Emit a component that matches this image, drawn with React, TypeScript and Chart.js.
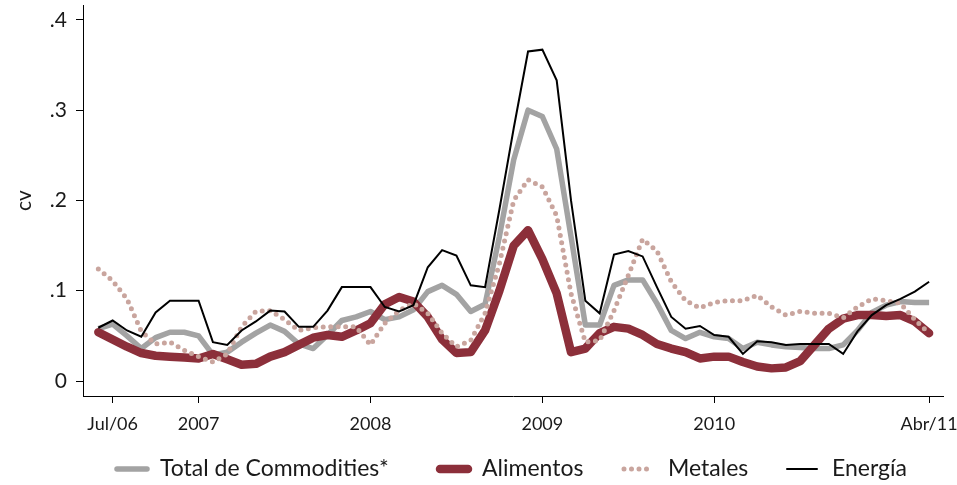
import React, { useEffect, useRef } from 'react';
import { Chart, registerables } from 'chart.js';

Chart.register(...registerables);

const months = [
  'Jun/06', 'Jul/06', 'Ago/06', 'Sep/06', 'Oct/06', 'Nov/06', 'Dic/06',
  'Ene/07', 'Feb/07', 'Mar/07', 'Abr/07', 'May/07', 'Jun/07', 'Jul/07', 'Ago/07', 'Sep/07', 'Oct/07', 'Nov/07', 'Dic/07',
  'Ene/08', 'Feb/08', 'Mar/08', 'Abr/08', 'May/08', 'Jun/08', 'Jul/08', 'Ago/08', 'Sep/08', 'Oct/08', 'Nov/08', 'Dic/08',
  'Ene/09', 'Feb/09', 'Mar/09', 'Abr/09', 'May/09', 'Jun/09', 'Jul/09', 'Ago/09', 'Sep/09', 'Oct/09', 'Nov/09', 'Dic/09',
  'Ene/10', 'Feb/10', 'Mar/10', 'Abr/10', 'May/10', 'Jun/10', 'Jul/10', 'Ago/10', 'Sep/10', 'Oct/10', 'Nov/10', 'Dic/10',
  'Ene/11', 'Feb/11', 'Mar/11', 'Abr/11',
];

const totalCommodities = [
  0.058, 0.063, 0.050, 0.036, 0.048, 0.054, 0.054,
  0.050, 0.029, 0.032, 0.043, 0.053, 0.062, 0.055, 0.041, 0.036, 0.051, 0.067, 0.071,
  0.077, 0.068, 0.071, 0.079, 0.099, 0.106, 0.096, 0.077, 0.085, 0.160, 0.245, 0.300,
  0.293, 0.257, 0.160, 0.062, 0.062, 0.106, 0.112, 0.112, 0.086, 0.056, 0.047, 0.054,
  0.049, 0.047, 0.036, 0.043, 0.040, 0.038, 0.037, 0.036, 0.036, 0.040, 0.056, 0.076,
  0.084, 0.088, 0.087, 0.087,
];

const alimentos = [
  0.054, 0.046, 0.038, 0.031, 0.028, 0.027, 0.026,
  0.025, 0.030, 0.024, 0.018, 0.019, 0.027, 0.032, 0.040, 0.048, 0.051, 0.049, 0.056,
  0.064, 0.085, 0.093, 0.088, 0.071, 0.046, 0.031, 0.032, 0.056, 0.100, 0.150, 0.167,
  0.135, 0.097, 0.032, 0.036, 0.053, 0.060, 0.058, 0.051, 0.041, 0.036, 0.032, 0.025,
  0.027, 0.027, 0.021, 0.016, 0.014, 0.015, 0.022, 0.040, 0.058, 0.069, 0.073, 0.073,
  0.072, 0.073, 0.066, 0.053,
];

const metales = [
  0.124, 0.111, 0.091, 0.055, 0.041, 0.043, 0.034,
  0.027, 0.021, 0.030, 0.060, 0.077, 0.078, 0.068, 0.056, 0.059, 0.060, 0.060, 0.060,
  0.040, 0.064, 0.078, 0.086, 0.075, 0.053, 0.038, 0.045, 0.075, 0.130, 0.200, 0.223,
  0.215, 0.183, 0.097, 0.043, 0.045, 0.078, 0.117, 0.157, 0.144, 0.110, 0.089, 0.081,
  0.087, 0.089, 0.089, 0.095, 0.082, 0.073, 0.077, 0.075, 0.075, 0.070, 0.082, 0.091,
  0.089, 0.086, 0.068, 0.053,
];

const energia = [
  0.059, 0.067, 0.056, 0.049, 0.076, 0.089, 0.089,
  0.089, 0.043, 0.040, 0.056, 0.066, 0.078, 0.077, 0.060, 0.060, 0.078, 0.104, 0.104,
  0.104, 0.082, 0.077, 0.084, 0.126, 0.145, 0.139, 0.106, 0.104, 0.190, 0.280, 0.365,
  0.367, 0.333, 0.200, 0.089, 0.075, 0.140, 0.144, 0.138, 0.104, 0.071, 0.058, 0.061,
  0.051, 0.049, 0.030, 0.044, 0.043, 0.040, 0.041, 0.041, 0.041, 0.030, 0.055, 0.073,
  0.084, 0.091, 0.099, 0.110,
];

const seriesNames = ['Total de Commodities*', 'Alimentos', 'Metales', 'Energía'];
const tickMonths = ['Jul/06', 'Ene/07', 'Ene/08', 'Ene/09', 'Ene/10', 'Abr/11'];
const tickLabels = ['Jul/06', '2007', '2008', '2009', '2010', 'Abr/11'];
const yTicks = [0, 0.1, 0.2, 0.3, 0.4];
const yTickLabels = ['0', '.1', '.2', '.3', '.4'];

const FONT = 'Lato, "Open Sans", sans-serif';
const TEXT = '#1a1a1a';

const toPoints = (arr: number[]) => arr.map((v, i) => ({ x: i, y: v }));

const legendLayout = [
  { x0: 117, x1: 147, tx: 160 },
  { x0: 440, x1: 468, tx: 482 },
  { x0: 624, x1: 648, tx: 668 },
  { x0: 787, x1: 817, tx: 832 },
];

const legendPlugin = {
  id: 'customLegend',
  afterDraw(chart: any) {
    const ctx = chart.ctx as CanvasRenderingContext2D;
    const y = 469;
    ctx.save();
    chart.data.datasets.forEach((ds: any, i: number) => {
      const pos = legendLayout[i];
      ctx.beginPath();
      ctx.strokeStyle = ds.borderColor;
      ctx.lineWidth = ds.borderWidth;
      ctx.lineCap = 'round';
      ctx.setLineDash(ds.borderDash || []);
      ctx.moveTo(pos.x0, y);
      ctx.lineTo(pos.x1, y);
      ctx.stroke();
      ctx.setLineDash([]);
      ctx.fillStyle = TEXT;
      ctx.font = `23px ${FONT}`;
      ctx.textAlign = 'left';
      ctx.textBaseline = 'middle';
      ctx.fillText(ds.label, pos.tx, y);
    });
    ctx.restore();
  },
};

export default function App() {
  const canvasRef = useRef<HTMLCanvasElement | null>(null);

  useEffect(() => {
    if (!canvasRef.current) return;
    const axisGrid = {
      drawOnChartArea: false,
      drawTicks: true,
      tickLength: 7,
      color: '#000',
      lineWidth: 1,
    };
    const axisBorder = { display: true, color: '#000', width: 1 };
    const chart = new Chart(canvasRef.current, {
      type: 'line',
      data: {
        datasets: [
          {
            label: seriesNames[0],
            data: toPoints(totalCommodities),
            borderColor: '#a3a3a3',
            borderWidth: 5.5,
            pointRadius: 0,
            tension: 0,
            borderJoinStyle: 'round',
            order: 4,
          },
          {
            label: seriesNames[1],
            data: toPoints(alimentos),
            borderColor: '#8c2f3a',
            borderWidth: 8.5,
            pointRadius: 0,
            tension: 0,
            borderJoinStyle: 'round',
            borderCapStyle: 'round',
            order: 3,
          },
          {
            label: seriesNames[2],
            data: toPoints(metales),
            borderColor: '#c9a59e',
            borderWidth: 5,
            borderDash: [0, 7.5],
            borderCapStyle: 'round',
            pointRadius: 0,
            tension: 0,
            order: 2,
          },
          {
            label: seriesNames[3],
            data: toPoints(energia),
            borderColor: '#000000',
            borderWidth: 2,
            pointRadius: 0,
            tension: 0,
            order: 1,
          },
        ],
      },
      options: {
        animation: false,
        responsive: false,
        maintainAspectRatio: false,
        devicePixelRatio: 1,
        layout: { padding: { top: 5, right: 14, left: 0, bottom: 0 } },
        plugins: {
          legend: { display: false },
          tooltip: { enabled: false },
        },
        scales: {
          x: {
            type: 'linear',
            min: -1.07,
            max: 58.97,
            afterBuildTicks: (s: any) => {
              s.ticks = tickMonths.map((m) => ({ value: months.indexOf(m) }));
            },
            afterFit: (s: any) => {
              s.height = 89;
              s.paddingLeft = 0;
              s.paddingRight = 0;
            },
            ticks: {
              autoSkip: false,
              maxRotation: 0,
              color: TEXT,
              padding: 10,
              font: { family: FONT, size: 18 },
              callback: (v: any) => {
                const k = tickMonths.indexOf(months[Math.round(Number(v))]);
                return k >= 0 ? tickLabels[k] : '';
              },
            },
            grid: axisGrid,
            border: axisBorder,
          },
          y: {
            type: 'linear',
            min: -0.0166,
            max: 0.4165,
            afterBuildTicks: (s: any) => {
              s.ticks = yTicks.map((v) => ({ value: v }));
            },
            afterFit: (s: any) => {
              s.width = 83;
              s.paddingTop = 0;
              s.paddingBottom = 0;
            },
            ticks: {
              color: TEXT,
              padding: 9,
              font: { family: FONT, size: 21 },
              callback: (_v: any, i: number) => yTickLabels[i],
            },
            title: {
              display: true,
              text: 'cv',
              color: TEXT,
              font: { family: FONT, size: 21 },
              padding: { top: 12, bottom: 0 },
            },
            grid: axisGrid,
            border: axisBorder,
          },
        },
      },
      plugins: [legendPlugin],
    } as any);
    return () => chart.destroy();
  }, []);

  return (
    <div style={{ position: 'fixed', left: 0, top: 0, width: 957, height: 485, background: '#fff' }}>
      <canvas ref={canvasRef} width={957} height={485} style={{ width: 957, height: 485, display: 'block' }} />
    </div>
  );
}
